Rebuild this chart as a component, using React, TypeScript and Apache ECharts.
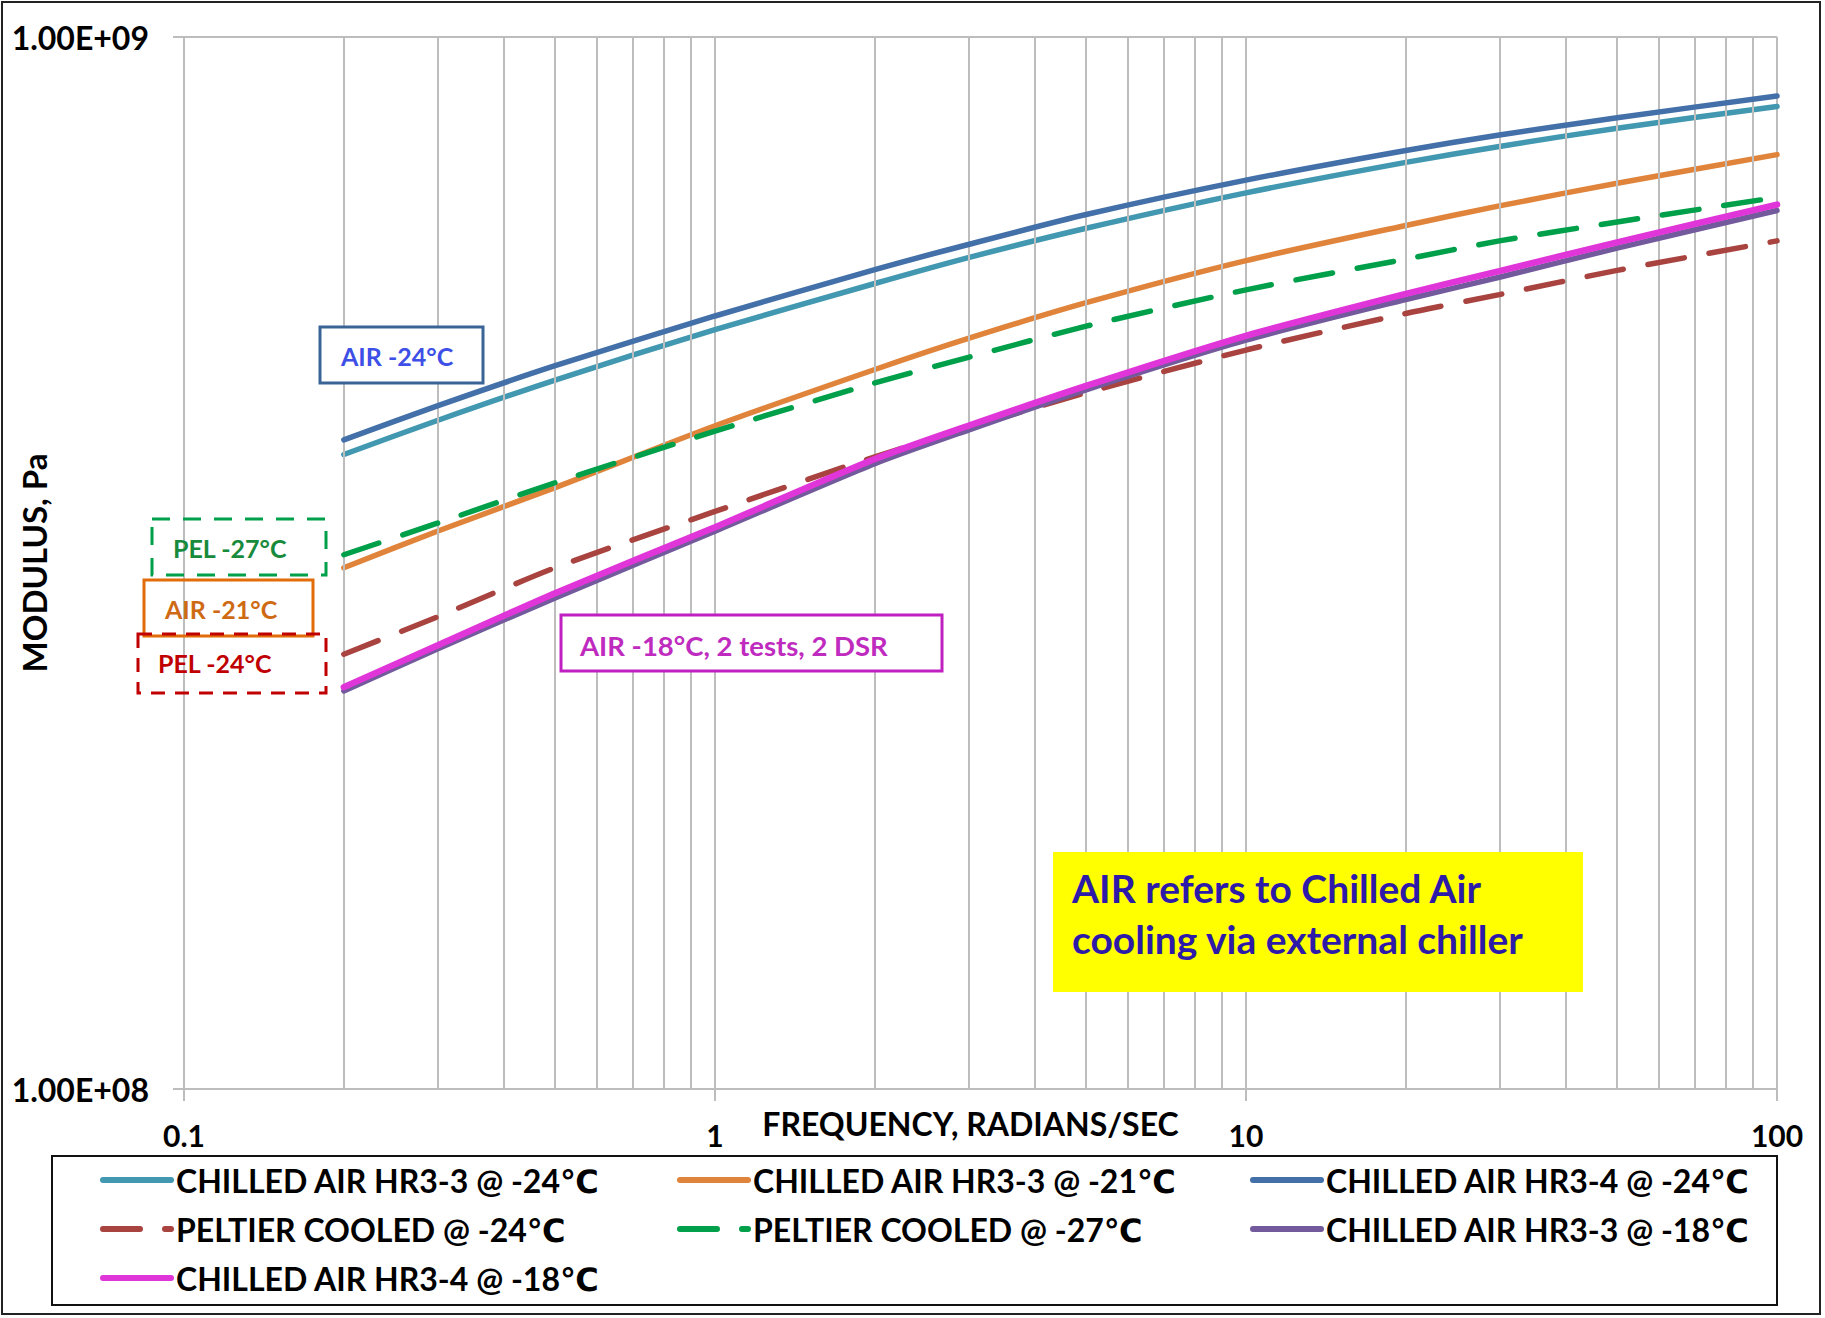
import React, { useEffect, useRef } from "react";
import * as echarts from "echarts";

// Frequency (rad/s) at which the modulus is read
const frequency = [0.2, 0.3, 0.5, 1, 2, 3, 5, 10, 20, 30, 50, 100];

// Modulus, Pa
const airHR33m24 = [4.01e8, 4.32e8, 4.72e8, 5.27e8, 5.83e8, 6.17e8, 6.58e8, 7.11e8, 7.6e8, 7.87e8, 8.19e8, 8.59e8];
const airHR33m21 = [3.13e8, 3.39e8, 3.73e8, 4.27e8, 4.83e8, 5.17e8, 5.59e8, 6.13e8, 6.62e8, 6.91e8, 7.26e8, 7.73e8];
const airHR34m24 = [4.14e8, 4.46e8, 4.87e8, 5.43e8, 6.01e8, 6.35e8, 6.78e8, 7.31e8, 7.8e8, 8.07e8, 8.38e8, 8.79e8];
const peltierM24 = [2.59e8, 2.81e8, 3.13e8, 3.54e8, 3.99e8, 4.25e8, 4.59e8, 5.04e8, 5.46e8, 5.69e8, 6.0e8, 6.4e8];
const peltierM27 = [3.22e8, 3.45e8, 3.77e8, 4.22e8, 4.69e8, 4.96e8, 5.31e8, 5.75e8, 6.15e8, 6.4e8, 6.67e8, 7.04e8];
const airHR33m18 = [2.39e8, 2.62e8, 2.93e8, 3.39e8, 3.93e8, 4.23e8, 4.62e8, 5.15e8, 5.63e8, 5.91e8, 6.3e8, 6.84e8];
const airHR34m18 = [2.41e8, 2.64e8, 2.96e8, 3.42e8, 3.97e8, 4.27e8, 4.66e8, 5.2e8, 5.7e8, 5.99e8, 6.38e8, 6.93e8];

// Minor vertical gridlines of the log frequency axis
const minorGridFreqs = [0.2, 0.3, 0.4, 0.5, 0.6, 0.7, 0.8, 0.9, 2, 3, 4, 5, 6, 7, 8, 9, 20, 30, 40, 50, 60, 70, 80, 90];

const seriesNames = [
  "CHILLED AIR HR3-3 @ -24℃",
  "CHILLED AIR HR3-3 @ -21℃",
  "CHILLED AIR HR3-4 @ -24℃",
  "PELTIER COOLED @ -24℃",
  "PELTIER COOLED @ -27℃",
  "CHILLED AIR HR3-3 @ -18℃",
  "CHILLED AIR HR3-4 @ -18℃",
];
const seriesValues = [airHR33m24, airHR33m21, airHR34m24, peltierM24, peltierM27, airHR33m18, airHR34m18];
const seriesColors = ["#4298b0", "#e0843b", "#4370a8", "#a9433f", "#00a04a", "#725a9c", "#e035d8"];
const seriesDashed = [false, false, false, true, true, false, false];

const legendColumns = [
  [seriesNames[0], seriesNames[3], seriesNames[6]],
  [seriesNames[1], seriesNames[4]],
  [seriesNames[2], seriesNames[5]],
];

const FONT = 'Lato, "Liberation Sans", "DejaVu Sans", sans-serif';

function boxText(x: number, y: number, text: string, color: string, size: number) {
  return {
    type: "text",
    x,
    y,
    z: 100,
    style: { text, fill: color, font: `bold ${size}px ${FONT}`, align: "left", verticalAlign: "middle" },
  };
}

export default function App() {
  const ref = useRef<HTMLDivElement>(null);

  useEffect(() => {
    if (!ref.current) return;
    const chart = echarts.init(ref.current, undefined, { renderer: "svg" });

    const series: any[] = seriesNames.map((name, i) => ({
      name,
      type: "line",
      symbol: "none",
      smooth: 0.25,
      z: 3 + i,
      data: frequency.map((f, j) => [f, seriesValues[i][j]]),
      lineStyle: {
        color: seriesColors[i],
        width: i === 6 ? 6.5 : 5.5,
        type: seriesDashed[i] ? [37, 25] : "solid",
        cap: "round",
      },
      itemStyle: { color: seriesColors[i] },
    }));

    series.unshift({
      name: "minor-grid",
      type: "line",
      z: 1,
      symbol: "none",
      data: [],
      silent: true,
      markLine: {
        silent: true,
        symbol: ["none", "none"],
        label: { show: false },
        lineStyle: { color: "#bdbdbd", width: 2, type: "solid" },
        data: minorGridFreqs.map((f) => ({ xAxis: f })),
        animation: false,
      },
    });

    const legends = legendColumns.map((col, k) => ({
      data: col,
      orient: "vertical",
      left: [95, 672, 1245][k],
      top: 1157,
      itemWidth: 68,
      itemHeight: 16,
      itemGap: 13,
      itemStyle: { opacity: 0 },
      lineStyle: { width: 6, cap: "round" },
      textStyle: { fontFamily: FONT, fontWeight: "bold", fontSize: 32, color: "#000", lineHeight: 36 },
      selectedMode: false,
    }));

    const option: any = {
      animation: false,
      backgroundColor: "#ffffff",
      grid: { left: 184, top: 37, width: 1593, height: 1052, containLabel: false, outerBoundsMode: "none" },
      xAxis: {
        type: "log",
        logBase: 10,
        min: 0.1,
        max: 100,
        name: "FREQUENCY, RADIANS/SEC",
        nameLocation: "middle",
        nameGap: 18,
        nameMoveOverlap: false,
        nameTextStyle: { fontFamily: FONT, fontWeight: "bold", fontSize: 32, color: "#000", padding: [0, 20, 0, 0] },
        axisLine: { show: true, lineStyle: { color: "#bdbdbd", width: 2 } },
        axisTick: { show: true, inside: false, length: 12, lineStyle: { color: "#bdbdbd", width: 2 } },
        axisLabel: {
          margin: 31,
          fontFamily: FONT,
          fontWeight: "bold",
          fontSize: 30,
          color: "#000",
          formatter: (v: number) => String(+v.toPrecision(3)),
        },
        splitLine: { show: true, lineStyle: { color: "#bdbdbd", width: 2 } },
      },
      yAxis: {
        type: "log",
        logBase: 10,
        min: 1e8,
        max: 1e9,
        name: "MODULUS, Pa",
        nameLocation: "middle",
        nameRotate: 90,
        nameGap: 134,
        nameMoveOverlap: false,
        nameTextStyle: { fontFamily: FONT, fontWeight: "bold", fontSize: 33, color: "#000" },
        axisLine: { show: true, lineStyle: { color: "#bdbdbd", width: 2 } },
        axisTick: { show: true, inside: false, length: 11, lineStyle: { color: "#bdbdbd", width: 2 } },
        axisLabel: {
          margin: 35,
          fontFamily: FONT,
          fontWeight: "bold",
          fontSize: 32,
          color: "#000",
          formatter: (v: number) => {
            const e = Math.floor(Math.log10(v) + 1e-9);
            const m = v / Math.pow(10, e);
            return m.toFixed(2) + "E+" + String(e).padStart(2, "0");
          },
        },
        splitLine: { show: true, lineStyle: { color: "#bdbdbd", width: 2 } },
      },
      legend: legends,
      series,
      graphic: [
        // outer border
        { type: "rect", shape: { x: 2, y: 2, width: 1818, height: 1312 }, style: { fill: "none", stroke: "#222", lineWidth: 2 }, z: 90 },
        // legend frame
        { type: "rect", shape: { x: 52, y: 1156, width: 1725, height: 149 }, style: { fill: "none", stroke: "#111", lineWidth: 2 }, z: 90 },
        // AIR -24°C
        { type: "rect", shape: { x: 320, y: 327, width: 163, height: 56 }, style: { fill: "#fff", stroke: "#3b6496", lineWidth: 3 }, z: 95 },
        boxText(341, 356, "AIR -24°C", "#3d4fe6", 25),
        // PEL -27°C
        { type: "rect", shape: { x: 152, y: 519, width: 174, height: 56 }, style: { fill: "none", stroke: "#00a04a", lineWidth: 3, lineDash: [18, 13] }, z: 95 },
        boxText(173, 548, "PEL -27°C", "#188a3c", 25),
        // AIR -21°C
        { type: "rect", shape: { x: 144, y: 580, width: 169, height: 56 }, style: { fill: "none", stroke: "#e36c0a", lineWidth: 3 }, z: 95 },
        boxText(165, 609, "AIR -21°C", "#cf6a14", 25),
        // PEL -24°C
        { type: "rect", shape: { x: 138, y: 634, width: 188, height: 59 }, style: { fill: "none", stroke: "#c00000", lineWidth: 3, lineDash: [14, 10] }, z: 95 },
        boxText(158, 663, "PEL -24°C", "#c00000", 25),
        // AIR -18°C
        { type: "rect", shape: { x: 561, y: 615, width: 381, height: 56 }, style: { fill: "#fff", stroke: "#c020c0", lineWidth: 3 }, z: 95 },
        boxText(580, 645, "AIR -18°C, 2 tests, 2 DSR", "#bf2bbf", 27.5),
        // yellow note
        { type: "rect", shape: { x: 1053, y: 852, width: 530, height: 140 }, style: { fill: "#ffff00", stroke: "none" }, z: 95 },
        boxText(1072, 888, "AIR refers to Chilled Air", "#2e1aa8", 39),
        boxText(1072, 939, "cooling via external chiller", "#2e1aa8", 39),
      ],
    };

    chart.setOption(option);
    return () => chart.dispose();
  }, []);

  return (
    <div
      ref={ref}
      style={{ position: "fixed", left: 0, top: 0, width: 1825, height: 1318, background: "#fff" }}
    />
  );
}
